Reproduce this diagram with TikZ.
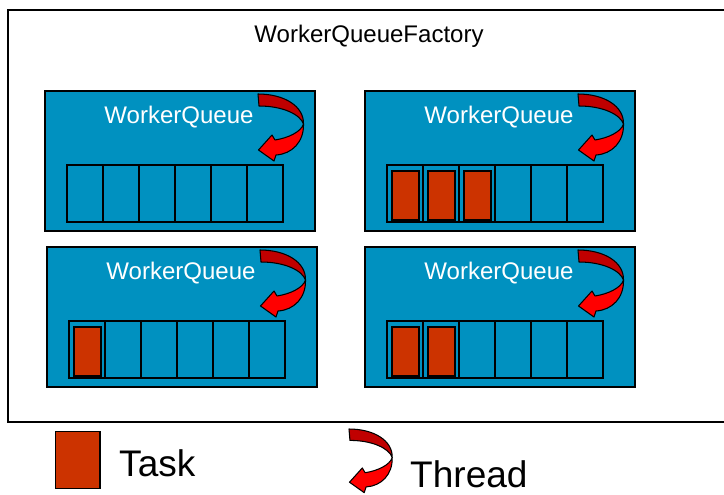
\documentclass[tikz,border=0pt]{standalone}
\usepackage{fontspec}
\setmainfont{Liberation Sans}
\usepackage{xcolor}

\definecolor{wqblue}{RGB}{0,145,192}
\definecolor{taskred}{RGB}{204,51,0}
\definecolor{threaddark}{RGB}{192,0,0}
\definecolor{threadred}{RGB}{255,0,0}

\tikzset{
  thread/.pic={
    \draw[fill=threaddark, line width=0.9pt, line join=round] (0,0) .. controls (26,0) and (46,12) .. (45.5,30) .. controls (42,20) and (24,12) .. (1,12) -- cycle;
    \draw[fill=threadred, line width=0.9pt, line join=round] (45.5,30) .. controls (46,48) and (34,60) .. (18,61) -- (16,67) -- (0.5,56) -- (14,41) -- (17,46) .. controls (30,44) and (43,38) .. (45.5,30) -- cycle;
  }
}

\begin{document}
\begin{tikzpicture}[x=0.03cm, y=-0.03cm]
    	\tikzstyle{queue}=[draw=black, fill=wqblue, line width=1.4pt, minimum width=8.1cm, minimum height=4.2cm, anchor=north west, inner sep=0pt]
    	\tikzstyle{slot}=[draw=black, line width=1.4pt, minimum width=1.08cm, minimum height=1.71cm, anchor=north west, inner sep=0pt]
    	\tikzstyle{task}=[draw=black, fill=taskred, line width=1.3pt, minimum width=0.81cm, minimum height=1.47cm, anchor=north west, inner sep=0pt]
    	\tikzstyle{qtitle}=[text=white, font=\fontsize{20.5}{24}\selectfont, anchor=base, inner sep=0pt]
    	\tikzstyle{legend}=[font=\fontsize{31.6}{36}\selectfont, anchor=base west, inner sep=0pt]

    	\useasboundingbox (0,0) rectangle (724,494);
    	\clip (0,0) rectangle (724,494);

    	% Factory
    	\node at (7,9) [draw=black, line width=1.3pt, minimum width=21.99cm, minimum height=12.36cm, anchor=north west, inner sep=0pt] (factory) {};
    	\node at (369,42) [qtitle, text=black] (factory_title) {WorkerQueueFactory};

    	% Queues
    	\foreach \q/\qx/\qy in {1/44/90, 2/364/90, 3/46/246, 4/364/246} {
    	\node at (\qx,\qy) [queue] (queue_\q) {};
    	\node at (\qx+135,\qy+33) [qtitle] (title_\q) {WorkerQueue};
    	\foreach \s in {1,...,6}
    	\node at (\qx+22+\s*36-36,\qy+74) [slot] (slot_\q_\s) {};
    	\pic at (\qx+214,\qy+4) {thread};
    	}

    	% Tasks
    	\foreach \q/\s in {2/1, 2/2, 2/3, 3/1, 4/1, 4/2}
    	\node at (slot_\q_\s.north west) [task, xshift=0.15cm, yshift=-0.18cm] (task_\q_\s) {};

    	% Legend
    	\node at (54.5,430.7) [task, minimum width=1.335cm, minimum height=1.71cm] (legend_task) {};
    	\node at (119,476) [legend] (legend_task_text) {Task};
    	\pic[scale=0.95] at (349,429) {thread};
    	\node at (410,487) [legend] (legend_thread_text) {Thread};

    \end{tikzpicture}
\end{document}
